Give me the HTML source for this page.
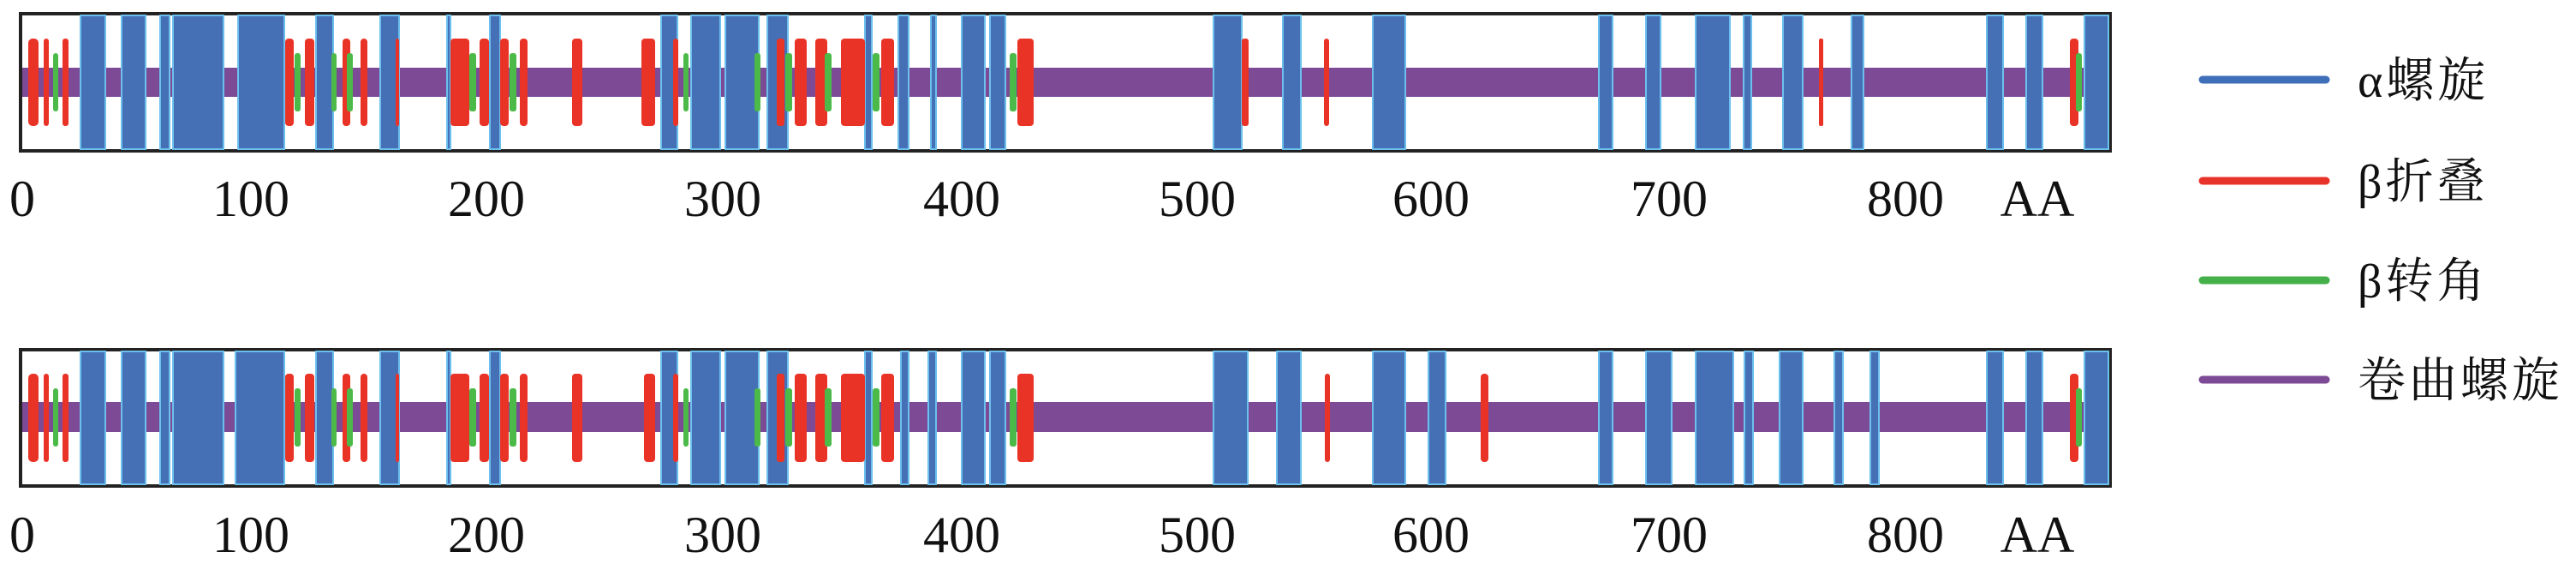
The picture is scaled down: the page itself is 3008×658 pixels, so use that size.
<!DOCTYPE html>
<html><head><meta charset="utf-8"><style>
html,body{margin:0;padding:0;background:#fff;}
svg{display:block;}
.ax{font-family:"Liberation Serif",serif;font-size:60px;fill:#111;text-anchor:middle;}
.lg{font-family:"Liberation Serif","Noto Serif CJK SC",serif;font-size:56px;fill:#111;letter-spacing:4px;}
.b{fill:#4670b5;stroke:#6cc0ee;stroke-width:2;}
.r{fill:#ea3327;}
.g{fill:#4cba48;}
.p{fill:#7d4b96;}
</style></head><body>
<svg width="3008" height="658" viewBox="0 0 3008 658" xmlns="http://www.w3.org/2000/svg">
<!-- TOP PANEL -->
<rect x="24" y="16" width="2440" height="160" fill="#fff" stroke="#222" stroke-width="4"/>
<rect class="p" x="26" y="79" width="2436" height="34"/>
<g class="b">
<rect x="94" y="18" width="29" height="156"/><rect x="142" y="18" width="28" height="156"/>
<rect x="187" y="18" width="11" height="156"/><rect x="202" y="18" width="59" height="156"/>
<rect x="278" y="18" width="54" height="156"/><rect x="369" y="18" width="20" height="156"/>
<rect x="444" y="18" width="22" height="156"/><rect x="522" y="18" width="4" height="156"/>
<rect x="572" y="18" width="12" height="156"/><rect x="772" y="18" width="19" height="156"/>
<rect x="807" y="18" width="34" height="156"/><rect x="847" y="18" width="39" height="156"/>
<rect x="896" y="18" width="24" height="156"/><rect x="1010" y="18" width="8" height="156"/>
<rect x="1049" y="18" width="12" height="156"/><rect x="1087" y="18" width="6" height="156"/>
<rect x="1123" y="18" width="27" height="156"/><rect x="1156" y="18" width="18" height="156"/>
<rect x="1417" y="18" width="33" height="156"/><rect x="1498" y="18" width="21" height="156"/>
<rect x="1603" y="18" width="38" height="156"/><rect x="1867" y="18" width="16" height="156"/>
<rect x="1922" y="18" width="17" height="156"/><rect x="1980" y="18" width="40" height="156"/>
<rect x="2036" y="18" width="9" height="156"/><rect x="2082" y="18" width="23" height="156"/>
<rect x="2162" y="18" width="14" height="156"/><rect x="2320" y="18" width="19" height="156"/>
<rect x="2366" y="18" width="19" height="156"/><rect x="2434" y="18" width="28" height="156"/>
</g>
<g class="r">
<rect x="33" y="45" width="12" height="102" rx="5"/><rect x="51" y="45" width="6" height="102" rx="3"/>
<rect x="73" y="45" width="7" height="102" rx="3"/><rect x="333" y="45" width="10" height="102" rx="4"/>
<rect x="356" y="45" width="11" height="102" rx="4"/><rect x="400" y="45" width="9" height="102" rx="4"/>
<rect x="421" y="45" width="8" height="102" rx="4"/><rect x="462" y="45" width="4" height="102" rx="2"/>
<rect x="526" y="45" width="22" height="102" rx="4"/><rect x="560" y="45" width="11" height="102" rx="4"/>
<rect x="584" y="45" width="10" height="102" rx="4"/><rect x="607" y="45" width="9" height="102" rx="4"/>
<rect x="668" y="45" width="12" height="102" rx="4"/><rect x="749" y="45" width="16" height="102" rx="4"/>
<rect x="786" y="45" width="6" height="102" rx="3"/><rect x="907" y="45" width="9" height="102" rx="3"/>
<rect x="928" y="45" width="14" height="102" rx="4"/><rect x="952" y="45" width="14" height="102" rx="4"/>
<rect x="982" y="45" width="28" height="102" rx="4"/><rect x="1029" y="45" width="15" height="102" rx="4"/>
<rect x="1188" y="45" width="19" height="102" rx="4"/><rect x="1450" y="45" width="8" height="102" rx="3"/>
<rect x="1546" y="45" width="6" height="102" rx="3"/><rect x="2124" y="45" width="5" height="102" rx="2"/>
<rect x="2417" y="45" width="10" height="102" rx="4"/>
</g>
<g class="g">
<rect x="62" y="62" width="6" height="68" rx="3"/><rect x="344" y="62" width="7" height="68" rx="3"/>
<rect x="387" y="62" width="6" height="68" rx="3"/><rect x="405" y="62" width="7" height="68" rx="3"/>
<rect x="548" y="62" width="8" height="68" rx="3"/><rect x="595" y="62" width="8" height="68" rx="3"/>
<rect x="798" y="62" width="6" height="68" rx="3"/><rect x="881" y="62" width="7" height="68" rx="3"/>
<rect x="917" y="62" width="8" height="68" rx="3"/><rect x="963" y="62" width="8" height="68" rx="3"/>
<rect x="1019" y="62" width="8" height="68" rx="3"/><rect x="1179" y="62" width="8" height="68" rx="3"/>
<rect x="2424" y="62" width="7" height="68" rx="3"/>
</g>
<g class="ax">
<text x="26" y="252">0</text><text x="293" y="252">100</text><text x="568" y="252">200</text>
<text x="844" y="252">300</text><text x="1123" y="252">400</text><text x="1398" y="252">500</text>
<text x="1671" y="252">600</text><text x="1949" y="252">700</text><text x="2225" y="252">800</text>
<text x="2379" y="252">AA</text>
</g>

<!-- BOTTOM PANEL -->
<rect x="24" y="408" width="2440" height="159" fill="#fff" stroke="#222" stroke-width="4"/>
<rect class="p" x="26" y="469" width="2436" height="35"/>
<g class="b">
<rect x="94" y="410" width="29" height="155"/><rect x="142" y="410" width="28" height="155"/>
<rect x="187" y="410" width="11" height="155"/><rect x="202" y="410" width="59" height="155"/>
<rect x="275" y="410" width="57" height="155"/><rect x="369" y="410" width="20" height="155"/>
<rect x="444" y="410" width="22" height="155"/><rect x="522" y="410" width="4" height="155"/>
<rect x="572" y="410" width="12" height="155"/><rect x="772" y="410" width="19" height="155"/>
<rect x="807" y="410" width="34" height="155"/><rect x="847" y="410" width="39" height="155"/>
<rect x="896" y="410" width="24" height="155"/><rect x="1010" y="410" width="8" height="155"/>
<rect x="1052" y="410" width="9" height="155"/><rect x="1084" y="410" width="9" height="155"/>
<rect x="1123" y="410" width="27" height="155"/><rect x="1156" y="410" width="18" height="155"/>
<rect x="1417" y="410" width="40" height="155"/><rect x="1491" y="410" width="28" height="155"/>
<rect x="1603" y="410" width="38" height="155"/><rect x="1668" y="410" width="20" height="155"/>
<rect x="1867" y="410" width="16" height="155"/><rect x="1922" y="410" width="30" height="155"/>
<rect x="1980" y="410" width="44" height="155"/><rect x="2037" y="410" width="10" height="155"/>
<rect x="2078" y="410" width="27" height="155"/><rect x="2142" y="410" width="10" height="155"/>
<rect x="2184" y="410" width="10" height="155"/><rect x="2320" y="410" width="19" height="155"/>
<rect x="2366" y="410" width="19" height="155"/><rect x="2434" y="410" width="28" height="155"/>
</g>
<g class="r">
<rect x="33" y="436" width="12" height="103" rx="5"/><rect x="51" y="436" width="6" height="103" rx="3"/>
<rect x="73" y="436" width="7" height="103" rx="3"/><rect x="333" y="436" width="10" height="103" rx="4"/>
<rect x="356" y="436" width="11" height="103" rx="4"/><rect x="400" y="436" width="9" height="103" rx="4"/>
<rect x="421" y="436" width="8" height="103" rx="4"/><rect x="462" y="436" width="4" height="103" rx="2"/>
<rect x="526" y="436" width="22" height="103" rx="4"/><rect x="560" y="436" width="11" height="103" rx="4"/>
<rect x="584" y="436" width="10" height="103" rx="4"/><rect x="607" y="436" width="9" height="103" rx="4"/>
<rect x="668" y="436" width="12" height="103" rx="4"/><rect x="752" y="436" width="13" height="103" rx="4"/>
<rect x="786" y="436" width="6" height="103" rx="3"/><rect x="907" y="436" width="9" height="103" rx="3"/>
<rect x="928" y="436" width="14" height="103" rx="4"/><rect x="952" y="436" width="14" height="103" rx="4"/>
<rect x="982" y="436" width="28" height="103" rx="4"/><rect x="1029" y="436" width="15" height="103" rx="4"/>
<rect x="1188" y="436" width="19" height="103" rx="4"/><rect x="1547" y="436" width="6" height="103" rx="3"/>
<rect x="1729" y="436" width="9" height="103" rx="4"/><rect x="2417" y="436" width="10" height="103" rx="4"/>
</g>
<g class="g">
<rect x="62" y="453" width="6" height="68" rx="3"/><rect x="344" y="453" width="7" height="68" rx="3"/>
<rect x="387" y="453" width="6" height="68" rx="3"/><rect x="405" y="453" width="7" height="68" rx="3"/>
<rect x="548" y="453" width="8" height="68" rx="3"/><rect x="595" y="453" width="8" height="68" rx="3"/>
<rect x="798" y="453" width="6" height="68" rx="3"/><rect x="881" y="453" width="7" height="68" rx="3"/>
<rect x="917" y="453" width="8" height="68" rx="3"/><rect x="963" y="453" width="8" height="68" rx="3"/>
<rect x="1019" y="453" width="8" height="68" rx="3"/><rect x="1179" y="453" width="8" height="68" rx="3"/>
<rect x="2424" y="453" width="7" height="68" rx="3"/>
</g>
<g class="ax">
<text x="26" y="644">0</text><text x="293" y="644">100</text><text x="568" y="644">200</text>
<text x="844" y="644">300</text><text x="1123" y="644">400</text><text x="1398" y="644">500</text>
<text x="1671" y="644">600</text><text x="1949" y="644">700</text><text x="2225" y="644">800</text>
<text x="2379" y="644">AA</text>
</g>

<!-- LEGEND -->
<g stroke-width="9" stroke-linecap="round">
<line x1="2572" y1="93" x2="2716" y2="93" stroke="#3f6fb8"/>
<line x1="2572" y1="211" x2="2716" y2="211" stroke="#e8332a"/>
<line x1="2572" y1="327" x2="2716" y2="327" stroke="#45b049"/>
<line x1="2572" y1="443" x2="2716" y2="443" stroke="#7d4b96"/>
</g>
<g class="lg">
<text x="2753" y="113">α螺旋</text>
<text x="2753" y="231">β折叠</text>
<text x="2753" y="347">β转角</text>
<text x="2753" y="463">卷曲螺旋</text>
</g>
</svg>
</body></html>
